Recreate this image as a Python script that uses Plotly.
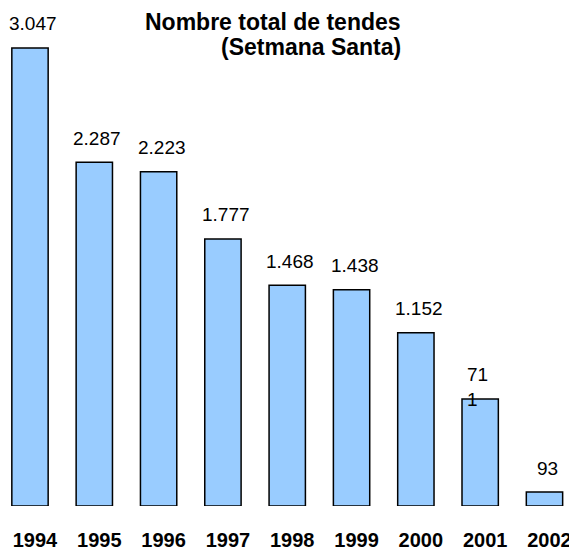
import plotly.graph_objects as go

years = ['1994', '1995', '1996', '1997', '1998', '1999', '2000', '2001', '2002']
tendes = [3047, 2287, 2223, 1777, 1468, 1438, 1152, 711, 93]
labels = ['3.047', '2.287', '2.223', '1.777', '1.468', '1.438', '1.152', '71<br>1', '93']
title_lines = ['Nombre total de tendes', '(Setmana Santa)']

FONT = 'Liberation Sans, Arial, sans-serif'

fig = go.Figure(go.Bar(
    x=list(range(len(years))), y=tendes, width=0.565,
    marker=dict(color='#99CCFF', line=dict(color='black', width=1.5)),
    hoverinfo='skip',
))

# value labels above the bars (711 wraps onto two lines like the original)
for i, (v, lab) in enumerate(zip(tendes, labels)):
    two = '<br>' in lab
    fig.add_annotation(x=i, y=v, text=lab, showarrow=False,
                       align='left', yanchor='middle',
                       yshift=12 if two else 24, xshift=-3 if two else 3,
                       font=dict(family=FONT, size=19, color='black'))

# title, two right-aligned lines
for k, line in enumerate(title_lines):
    fig.add_annotation(xref='paper', yref='paper', x=0.683, y=0.9709 - k * 0.0502,
                       xanchor='right', yanchor='middle', showarrow=False,
                       borderpad=0,
                       text='<b>' + line + '</b>',
                       font=dict(family=FONT, size=23, color='black'))

fig.update_layout(
    width=577, height=550,
    margin=dict(l=0, r=0, t=0, b=52),
    plot_bgcolor='white', paper_bgcolor='white',
    showlegend=False,
    font=dict(family=FONT, color='black'),
)
fig.update_xaxes(type='linear', range=[-0.342, 8.63], showline=False, showgrid=False,
                 zeroline=False, ticks='',
                 tickfont=dict(size=20, family=FONT),
                 ticklabelstandoff=20, ticklabelshift=5,
                 tickvals=list(range(len(years))),
                 ticktext=['<b>' + y + '</b>' for y in years])
fig.update_yaxes(range=[0, 3313], visible=False)

fig.write_html('out.html')
